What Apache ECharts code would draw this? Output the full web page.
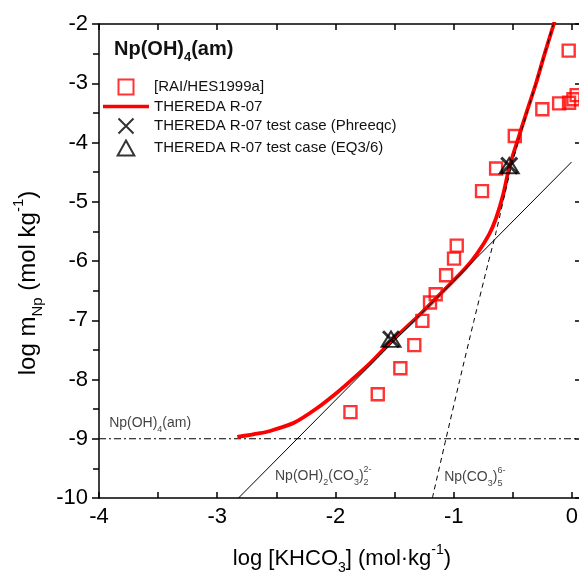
<!DOCTYPE html>
<html><head><meta charset="utf-8">
<script src="https://cdn.jsdelivr.net/npm/echarts@6/dist/echarts.min.js"></script>
<style>html,body{margin:0;padding:0;background:#fff}#c{width:579px;height:577px}</style>
</head><body><div id="c"></div>
<script>
// ---- data ----
const xRange = [-4, 0.5];
const yRange = [-10, -2];
const raiHes1999a = [[-1.873,-8.55],[-1.642,-8.25],[-1.451,-7.81],[-1.333,-7.42],[-1.265,-7.01],[-1.20,-6.70],[-1.152,-6.56],[-1.064,-6.24],[-0.997,-5.96],[-0.974,-5.74],[-0.76,-4.82],[-0.641,-4.44],[-0.483,-3.89],[-0.25,-3.44],[-0.108,-3.34],[-0.027,-2.45],[-0.024,-3.33],[0.013,-3.27],[0.04,-3.20]];
const theredaR07 = [[-2.83,-8.97],[-2.65,-8.91],[-2.54,-8.86],[-2.35,-8.73],[-2.16,-8.49],[-1.98,-8.21],[-1.87,-8.02],[-1.70,-7.71],[-1.53,-7.36],[-1.30,-6.93],[-1.10,-6.53],[-0.90,-6.12],[-0.80,-5.87],[-0.70,-5.55],[-0.64,-5.27],[-0.58,-4.87],[-0.53,-4.42],[-0.46,-3.97],[-0.38,-3.47],[-0.303,-3.0],[-0.23,-2.5],[-0.156,-2.02],[-0.14,-1.9]];
const npOH2CO3line = [[-2.82,-10.0],[-0.003,-4.33]];
const npCO35line = [[-1.18,-10],[-1.065,-9],[-0.95,-8.02],[-0.83,-7.02],[-0.71,-6.05],[-0.64,-5.5],[-0.53,-4.55],[-0.46,-4.03],[-0.38,-3.5],[-0.303,-3.0],[-0.156,-2.0],[-0.14,-1.9]];
const solubilityLevel = -9;
const testPhreeqc = [[-1.53,-7.32],[-0.53,-4.39]];
const testEQ36 = [[-1.53,-7.32],[-0.53,-4.39]];
const speciesLabels = [
  {pos:[-3.91,-8.75], text:'{t|Np(OH)}{s|4}{t|(am)}'},
  {pos:[-2.507,-9.64], text:'{t|Np(OH)}{s|2}{t|(CO}{s|3}{t|)}{s0|2}{p|2-}'},
  {pos:[-1.076,-9.66], text:'{t|Np(CO}{s|3}{t|)}{s0|5}{p|6-}'}
];
const legendNames = ['[RAI/HES1999a]','THEREDA R-07','THEREDA R-07 test case (Phreeqc)','THEREDA R-07 test case (EQ3/6)'];

const SQUARE = 'path://M0,0H10V10H0Z';
const CROSS = 'path://M0,0L10,10M10,0L0,10';
const TRIANGLE = 'path://M5,0L10,9L0,9Z';
const LINEICON = 'path://M0,0H46V3.5H0Z';

const FF = '"Liberation Sans", Arial, sans-serif';
const chart = echarts.init(document.getElementById('c'), null, {renderer:'canvas'});
const txtRich = {
  t:{fontSize:14, fontFamily:FF, color:'#111', lineHeight:22},
  s:{fontSize:9, fontFamily:FF, color:'#111', lineHeight:22, verticalAlign:'bottom'},
  s0:{fontSize:9, fontFamily:FF, color:'#111', lineHeight:22, verticalAlign:'bottom', width:0},
  p:{fontSize:9, fontFamily:FF, color:'#111', lineHeight:22, verticalAlign:'top'}
};
const axisLineStyle = {color:'#000', width:1.5};
const option = {
  animation:false,
  backgroundColor:'#fff',
  title:{
    text:'{b|Np(OH)}{s|4}{b|(am)}', left:114, top:34, padding:0,
    textStyle:{rich:{
      b:{fontSize:20, fontWeight:'bold', fontFamily:FF, color:'#111', lineHeight:30},
      s:{fontSize:13, fontWeight:'bold', fontFamily:FF, color:'#111', lineHeight:30, verticalAlign:'bottom'}
    }}
  },
  legend:{
    data:[
      {name:legendNames[0]},
      {name:legendNames[1], icon:LINEICON},
      {name:legendNames[2]},
      {name:legendNames[3]}
    ],
    orient:'vertical', left:103, top:77, itemWidth:46, itemHeight:15, itemGap:2, symbolKeepAspect:true,
    textStyle:{fontSize:15, fontFamily:FF, color:'#111'}, padding:0
  },
  grid:{left:99, top:24, width:532, height:474, outerBoundsMode:'none', containLabel:false},
  xAxis:[{
    type:'value', min:xRange[0], max:xRange[1], interval:1, position:'bottom',
    axisLine:{onZero:false, lineStyle:axisLineStyle},
    axisTick:{inside:true, length:6, lineStyle:{color:'#000', width:1.5}},
    minorTick:{show:true, splitNumber:2, length:6, lineStyle:{color:'#000', width:1.5}},
    axisLabel:{fontSize:22, fontFamily:FF, color:'#000', margin:8, showMaxLabel:false},
    splitLine:{show:false},
    name:'{t|log [KHCO}{s|3}{t|] (mol·kg}{p|-1}{t|)}', nameLocation:'middle', nameGap:45,
    nameTextStyle:{padding:[0,46,0,0], rich:{
      t:{fontSize:22, fontFamily:FF, color:'#000', lineHeight:32},
      s:{fontSize:14, fontFamily:FF, color:'#000', lineHeight:32, verticalAlign:'bottom'},
      p:{fontSize:14, fontFamily:FF, color:'#000', lineHeight:32, verticalAlign:'top'}
    }}
  },{
    type:'value', min:xRange[0], max:xRange[1], interval:1, position:'top',
    axisLine:{onZero:false, lineStyle:axisLineStyle},
    axisTick:{inside:true, length:6, lineStyle:{color:'#000', width:1.5}},
    minorTick:{show:true, splitNumber:2, length:6, lineStyle:{color:'#000', width:1.5}},
    axisLabel:{show:false}, splitLine:{show:false}
  }],
  yAxis:[{
    type:'value', min:yRange[0], max:yRange[1], interval:1, position:'left',
    axisLine:{onZero:false, lineStyle:axisLineStyle},
    axisTick:{inside:false, length:7, lineStyle:{color:'#000', width:1.5}},
    minorTick:{show:true, splitNumber:2, length:6, lineStyle:{color:'#000', width:1.5}},
    axisLabel:{fontSize:22, fontFamily:FF, color:'#000', margin:11},
    splitLine:{show:false},
    name:'{t|log m}{s|Np}{t| (mol kg}{p|-1}{t|)}', nameLocation:'middle', nameGap:44, nameRotate:90,
    nameTextStyle:{padding:[0,44,0,0], rich:{
      t:{fontSize:24, fontFamily:FF, color:'#000', lineHeight:34},
      s:{fontSize:15, fontFamily:FF, color:'#000', lineHeight:34, verticalAlign:'bottom'},
      p:{fontSize:15, fontFamily:FF, color:'#000', lineHeight:34, verticalAlign:'top'}
    }}
  },{
    type:'value', min:yRange[0], max:yRange[1], interval:1, position:'right', offset:-48,
    axisLine:{onZero:false, lineStyle:axisLineStyle},
    axisTick:{inside:true, length:8, lineStyle:{color:'#000', width:1.5}},
    minorTick:{show:true, splitNumber:2, length:4, lineStyle:{color:'#999', width:1}},
    axisLabel:{show:false}, splitLine:{show:false}
  }],
  series:[
    {type:'line', name:'limit', data:[[xRange[0],solubilityLevel],[xRange[1],solubilityLevel]], symbol:'none', silent:true,
     lineStyle:{color:'#000', width:1, type:[7,3,2,3]}, z:2},
    {type:'line', name:'THEREDA R-07', data:theredaR07, symbol:'none', smooth:0.25,
     lineStyle:{color:'#ff0000', width:3.8}, itemStyle:{color:'#ff0000'}, z:3},
    {type:'line', name:'NpOH2CO3', data:npOH2CO3line, symbol:'none', lineStyle:{color:'#000', width:1}, z:4},
    {type:'line', name:'NpCO35', data:npCO35line, symbol:'none', smooth:0.25,
     lineStyle:{color:'#000', width:1, type:[5,4]}, z:4},
    {type:'scatter', name:legendNames[0], data:raiHes1999a, symbol:SQUARE, symbolSize:12, symbolKeepAspect:true,
     itemStyle:{color:'none', borderColor:'#ff0000', borderWidth:2.4}, z:5},
    {type:'scatter', name:legendNames[2], data:testPhreeqc, symbol:CROSS, symbolSize:16, symbolKeepAspect:true,
     itemStyle:{color:'none', borderColor:'#000', borderWidth:3}, z:6},
    {type:'scatter', name:legendNames[3], data:testEQ36, symbol:TRIANGLE, symbolSize:[19,17], symbolKeepAspect:true,
     itemStyle:{color:'none', borderColor:'#000', borderWidth:2}, z:6},
    {type:'scatter', name:'labels', silent:true, symbolSize:1, itemStyle:{color:'rgba(0,0,0,0)'},
     data:speciesLabels.map(l=>({value:l.pos, label:{formatter:l.text}})),
     label:{show:true, position:[0,0], align:'left', verticalAlign:'middle', rich:txtRich}, z:7}
  ]
};
chart.setOption(option);
</script></body></html>
